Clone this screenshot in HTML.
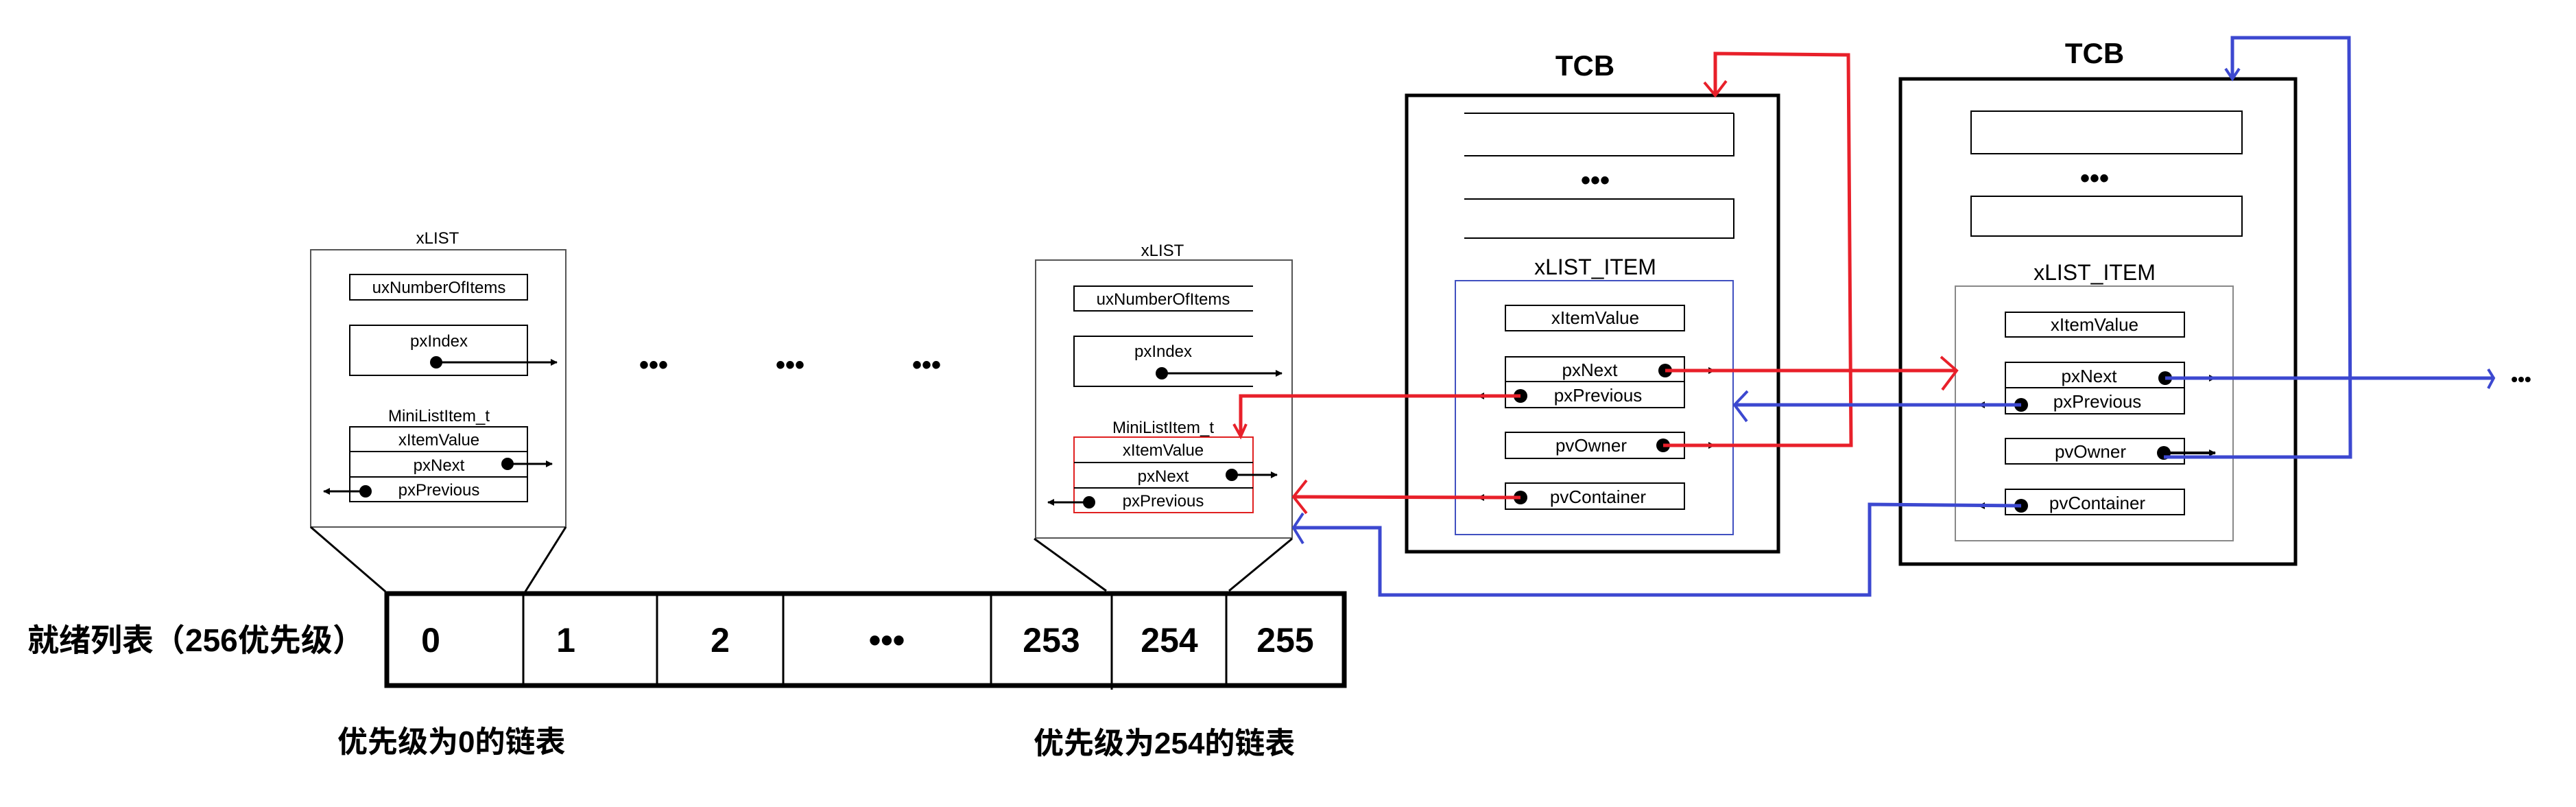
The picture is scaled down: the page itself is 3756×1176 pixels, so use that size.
<!DOCTYPE html>
<html><head><meta charset="utf-8"><style>
html,body{margin:0;padding:0;background:#fff;}
svg{display:block;}
text{font-family:"Liberation Sans","Noto Sans CJK SC",sans-serif;}
</style></head><body>
<svg width="3756" height="1176" viewBox="0 0 3756 1176" xmlns="http://www.w3.org/2000/svg">
<defs>
<marker id="ba" markerWidth="10" markerHeight="10" refX="9" refY="5" orient="auto" markerUnits="userSpaceOnUse"><path d="M0,0 L10,5 L0,10 z" fill="#000"/></marker>
</defs>
<g fill="none" stroke="#000">
<!-- xLIST 1 -->
<rect x="453" y="364" width="372" height="404" stroke-width="2" stroke="#555"/>
<line x1="453" y1="768" x2="562" y2="862" stroke-width="3"/>
<line x1="825" y1="768" x2="766" y2="862" stroke-width="3"/>
<rect x="510" y="400" width="259" height="37" stroke-width="2"/>
<rect x="510" y="474" width="259" height="73" stroke-width="2"/>
<rect x="510" y="622" width="259" height="109" stroke-width="2"/>
<line x1="510" y1="658" x2="769" y2="658" stroke-width="2"/>
<line x1="510" y1="695" x2="769" y2="695" stroke-width="2"/>
<line x1="636" y1="528" x2="812" y2="528" stroke-width="3" marker-end="url(#ba)"/>
<line x1="740" y1="676" x2="805" y2="676" stroke-width="3" marker-end="url(#ba)"/>
<line x1="533" y1="716" x2="472" y2="716" stroke-width="3" marker-end="url(#ba)"/>
<!-- xLIST 2 -->
<rect x="1510" y="379" width="374" height="405" stroke-width="2" stroke="#555"/>
<line x1="1508" y1="785" x2="1613" y2="861" stroke-width="3"/>
<line x1="1884" y1="785" x2="1792" y2="861" stroke-width="3"/>
<path d="M1827,417 H1566 V453 H1827" stroke-width="2"/>
<path d="M1827,490 H1566 V563 H1827" stroke-width="2"/>
<rect x="1566" y="637" width="261" height="110" stroke-width="2" stroke="#e02020"/>
<line x1="1566" y1="674" x2="1827" y2="674" stroke-width="2"/>
<line x1="1566" y1="711" x2="1827" y2="711" stroke-width="2"/>
<line x1="1694" y1="544" x2="1869" y2="544" stroke-width="3" marker-end="url(#ba)"/>
<line x1="1796" y1="692" x2="1862" y2="692" stroke-width="3" marker-end="url(#ba)"/>
<line x1="1588" y1="732" x2="1528" y2="732" stroke-width="3" marker-end="url(#ba)"/>
<!-- array -->
<rect x="564" y="865" width="1396" height="134" stroke-width="7"/>
<g stroke-width="3">
<line x1="763" y1="865" x2="763" y2="999"/><line x1="958" y1="865" x2="958" y2="999"/>
<line x1="1142" y1="865" x2="1142" y2="999"/><line x1="1445" y1="865" x2="1445" y2="999"/>
<line x1="1621" y1="865" x2="1621" y2="1005"/><line x1="1788" y1="865" x2="1788" y2="999"/>
</g>
<!-- TCB 1 -->
<rect x="2051" y="139" width="542" height="665" stroke-width="5"/>
<path d="M2528,165 H2135 M2528,165 V227 H2135" stroke-width="2"/>
<path d="M2135,290 H2528 V347 H2135" stroke-width="2"/>
<rect x="2122" y="409" width="405" height="370" stroke-width="2" stroke="#4050c0"/>
<rect x="2195" y="445" width="261" height="37" stroke-width="2"/>
<rect x="2195" y="520" width="261" height="74" stroke-width="2"/>
<line x1="2195" y1="556" x2="2456" y2="556" stroke-width="2"/>
<rect x="2195" y="630" width="261" height="38" stroke-width="2"/>
<rect x="2195" y="704" width="261" height="38" stroke-width="2"/>
<line x1="2428" y1="540" x2="2500" y2="540" stroke-width="3" marker-end="url(#ba)"/>
<line x1="2217" y1="577" x2="2155" y2="577" stroke-width="3" marker-end="url(#ba)"/>
<line x1="2425" y1="649" x2="2500" y2="649" stroke-width="3" marker-end="url(#ba)"/>
<line x1="2217" y1="725" x2="2155" y2="725" stroke-width="3" marker-end="url(#ba)"/>
<!-- TCB 2 -->
<rect x="2771" y="115" width="576" height="707" stroke-width="5"/>
<rect x="2874" y="162" width="395" height="62" stroke-width="2"/>
<rect x="2874" y="286" width="395" height="58" stroke-width="2"/>
<rect x="2851" y="417" width="405" height="371" stroke-width="2" stroke="#888"/>
<rect x="2924" y="455" width="261" height="36" stroke-width="2"/>
<rect x="2924" y="528" width="261" height="75" stroke-width="2"/>
<line x1="2924" y1="565" x2="3185" y2="565" stroke-width="2"/>
<rect x="2924" y="639" width="261" height="37" stroke-width="2"/>
<rect x="2924" y="713" width="261" height="37" stroke-width="2"/>
<line x1="3157" y1="551" x2="3230" y2="551" stroke-width="3" marker-end="url(#ba)"/>
<line x1="2947" y1="590" x2="2885" y2="590" stroke-width="3" marker-end="url(#ba)"/>
<line x1="3155" y1="660" x2="3230" y2="660" stroke-width="4" marker-end="url(#ba)"/>
<line x1="2947" y1="737" x2="2885" y2="737" stroke-width="3" marker-end="url(#ba)"/>
</g>
<!-- dots -->
<g fill="#000">
<circle cx="636" cy="528" r="9"/><circle cx="740" cy="676" r="9"/><circle cx="533" cy="716" r="9"/>
<circle cx="1694" cy="544" r="9"/><circle cx="1796" cy="692" r="9"/><circle cx="1588" cy="732" r="9"/>
<circle cx="2428" cy="540" r="10"/><circle cx="2217" cy="577" r="10"/><circle cx="2425" cy="649" r="10"/><circle cx="2217" cy="725" r="10"/>
<circle cx="3157" cy="551" r="10"/><circle cx="2947" cy="590" r="10"/><circle cx="3155" cy="660" r="10"/><circle cx="2947" cy="737" r="10"/>
</g>
<!-- red connectors -->
<g fill="none" stroke="#e8202a" stroke-width="5">
<polyline points="2428,540 2853,540"/><polyline points="2830,520 2853,540 2832,568" stroke-width="4"/>
<polyline points="2217,577 1809,577 1809,632"/><polyline points="1799,618 1809,636 1817,618" stroke-width="4"/>
<polyline points="2217,725 1886,724"/><polyline points="1905,700 1886,724 1905,748" stroke-width="4"/>
<polyline points="2425,649 2699,649 2695,80 2501,78 2501,137"/><polyline points="2485,120 2501,139 2517,118" stroke-width="4"/>
</g>
<!-- blue connectors -->
<g fill="none" stroke="#3c48d0" stroke-width="5">
<polyline points="2947,590 2529,590"/><polyline points="2548,570 2529,590 2547,614" stroke-width="4"/>
<polyline points="3157,551 3636,551"/><polyline points="3628,538 3636,551 3628,566" stroke-width="4"/>
<polyline points="3155,666 3427,666 3425,55 3255,55 3255,115"/><polyline points="3245,100 3255,115 3265,100" stroke-width="4"/>
<polyline points="2947,737 2726,735 2726,867 2012,867 2012,769 1886,769"/><polyline points="1900,748 1886,769 1900,792" stroke-width="4"/>
</g>
<!-- text -->
<g fill="#000" text-anchor="middle">
<text x="638" y="355" font-size="24">xLIST</text>
<text x="640" y="427" font-size="24">uxNumberOfItems</text>
<text x="640" y="505" font-size="24">pxIndex</text>
<text x="640" y="614" font-size="24">MiniListItem_t</text>
<text x="640" y="649" font-size="24">xItemValue</text>
<text x="640" y="686" font-size="24">pxNext</text>
<text x="640" y="722" font-size="24">pxPrevious</text>
<text x="1695" y="373" font-size="24">xLIST</text>
<text x="1696" y="444" font-size="24">uxNumberOfItems</text>
<text x="1696" y="520" font-size="24">pxIndex</text>
<text x="1696" y="631" font-size="24">MiniListItem_t</text>
<text x="1696" y="664" font-size="24">xItemValue</text>
<text x="1696" y="702" font-size="24">pxNext</text>
<text x="1696" y="738" font-size="24">pxPrevious</text>
<text x="953" y="545" font-size="40" font-weight="bold">•••</text>
<text x="1152" y="545" font-size="40" font-weight="bold">•••</text>
<text x="1351" y="545" font-size="40" font-weight="bold">•••</text>
<g font-size="50" font-weight="bold">
<text x="628" y="950">0</text><text x="825" y="950">1</text><text x="1050" y="950">2</text>
<text x="1293" y="950">•••</text><text x="1533" y="950">253</text><text x="1705" y="950">254</text><text x="1874" y="950">255</text>
</g>
<text x="2311" y="110" font-size="42" font-weight="bold">TCB</text>
<text x="3054" y="92" font-size="42" font-weight="bold">TCB</text>
<text x="2326" y="276" font-size="40" font-weight="bold">•••</text>
<text x="3054" y="273" font-size="40" font-weight="bold">•••</text>
<text x="2326" y="400" font-size="32">xLIST_ITEM</text>
<text x="3054" y="408" font-size="32">xLIST_ITEM</text>
<g font-size="26">
<text x="2326" y="472">xItemValue</text>
<text x="2318" y="548">pxNext</text>
<text x="2330" y="585">pxPrevious</text>
<text x="2320" y="658">pvOwner</text>
<text x="2330" y="733">pvContainer</text>
<text x="3054" y="482">xItemValue</text>
<text x="3046" y="557">pxNext</text>
<text x="3058" y="594">pxPrevious</text>
<text x="3048" y="667">pvOwner</text>
<text x="3058" y="742">pvContainer</text>
</g>
<text x="3676" y="562" font-size="28" font-weight="bold">•••</text>
</g>
<g fill="#000" font-weight="bold">
<text x="40" y="949" font-size="46">就绪列表（256优先级）</text>
<text x="492" y="1096" font-size="44">优先级为0的链表</text>
<text x="1507" y="1098" font-size="44">优先级为254的链表</text>
</g>
</svg>
</body></html>
